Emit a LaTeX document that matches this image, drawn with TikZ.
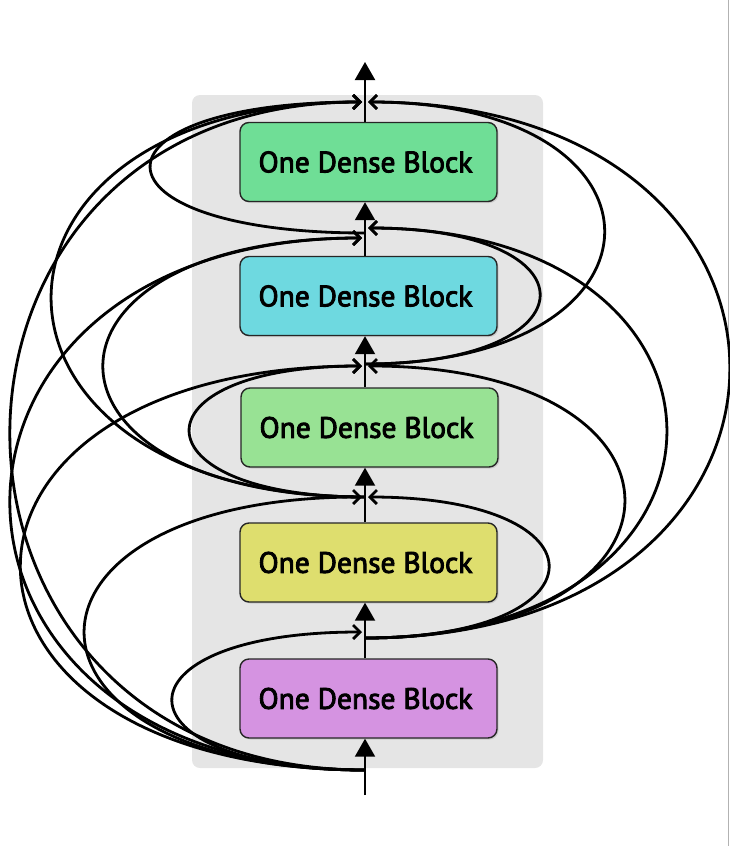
\documentclass[tikz,border=0pt]{standalone}
\usepackage{fontspec}
\setmainfont[FakeBold=3]{PT Sans}
\usetikzlibrary{arrows.meta,shadows}
\definecolor{bggray}{HTML}{E5E5E5}
\definecolor{cfive}{HTML}{6FDE96}
\definecolor{cfour}{HTML}{6ED9E0}
\definecolor{cthree}{HTML}{98E294}
\definecolor{ctwo}{HTML}{DEDE6E}
\definecolor{cone}{HTML}{D593E1}
\begin{document}
\begin{tikzpicture}[x=1pt,y=-1pt,
  block/.style={draw=black!85, line width=1.4pt, rounded corners=9pt,
    minimum width=257pt, minimum height=79pt, inner sep=0pt,
    font=\fontsize{29.5}{34}\selectfont,
    drop shadow={opacity=0.25, shadow xshift=1.5pt, shadow yshift=-1.5pt}},
  mainline/.style={line width=2pt, -{Triangle[length=18pt,width=20pt]}},
  conn/.style={line width=2.8pt, -{Straight Barb[length=7pt,width=14pt]}}]
\useasboundingbox (0,0) rectangle (730,846);
\fill[bggray, rounded corners=8pt] (192,95) rectangle (543,768);
\draw[black!30, line width=1.2pt] (728.5,0) -- (728.5,846);

\node[block, fill=cfive]  (b5) at (368.5,162) {One Dense Block\kern6pt};
\node[block, fill=cfour]  (b4) at (368.5,296) {One Dense Block\kern6pt};
\node[block, fill=cthree] (b3) at (369.5,427.5) {One Dense Block\kern6pt};
\node[block, fill=ctwo]   (b2) at (368.5,562.5) {One Dense Block\kern6pt};
\node[block, fill=cone]   (b1) at (368.5,698.5) {One Dense Block\kern6pt};

\coordinate (in) at (365,795);
\coordinate (out) at (365,62);
\coordinate (j0) at (365,770);
\coordinate (j1L) at (362,632);
\coordinate (j1o) at (365,638);
\coordinate (j2L) at (362,497);
\coordinate (j2R) at (368,497);
\coordinate (j2o) at (365,497);
\coordinate (j3L) at (362,366);
\coordinate (j3R) at (368,366);
\coordinate (j3o) at (365,364);
\coordinate (j4L) at (362,238);
\coordinate (j4R) at (368,228);
\coordinate (j4o) at (365,233);
\coordinate (j5L) at (362,102);
\coordinate (j5R) at (368,102);

% connections going round the left side
\draw[conn] (j0) .. controls +(-255,0) and +(-255,0) .. (j1L);
\draw[conn] (j0) .. controls +(-372,0) and +(-372,0) .. (j2L);
\draw[conn] (j0) .. controls +(-457,0) and +(-457,0) .. (j3L);
\draw[conn] (j0) .. controls +(-471,0) and +(-471,0) .. (j4L);
\draw[conn] (j0) .. controls +(-471,0) and +(-471,0) .. (j5L);
\draw[conn] (j2o) .. controls +(-232,0) and +(-232,0) .. (j3L);
\draw[conn] (j2o) .. controls +(-347,0) and +(-347,0) .. (j4L);
\draw[conn] (j2o) .. controls +(-416,0) and +(-416,0) .. (j5L);
\draw[conn] (j4o) .. controls +(-284,0) and +(-284,0) .. (j5L);
% connections going round the right side
\draw[conn] (j1o) .. controls +(243,0) and +(243,0) .. (j2R);
\draw[conn] (j1o) .. controls +(344,0) and +(344,0) .. (j3R);
\draw[conn] (j1o) .. controls +(400,0) and +(400,0) .. (j4R);
\draw[conn] (j1o) .. controls +(484,0) and +(484,0) .. (j5R);
\draw[conn] (j3o) .. controls +(231,0) and +(231,0) .. (j4R);
\draw[conn] (j3o) .. controls +(317,0) and +(317,0) .. (j5R);

% main path
\draw[mainline] (in) -- (in |- b1.south);
\draw[mainline] (in |- b1.north) -- (in |- b2.south);
\draw[mainline] (in |- b2.north) -- (in |- b3.south);
\draw[mainline] (in |- b3.north) -- (in |- b4.south);
\draw[mainline] (in |- b4.north) -- (in |- b5.south);
\draw[mainline] (in |- b5.north) -- (out);
\end{tikzpicture}
\end{document}
